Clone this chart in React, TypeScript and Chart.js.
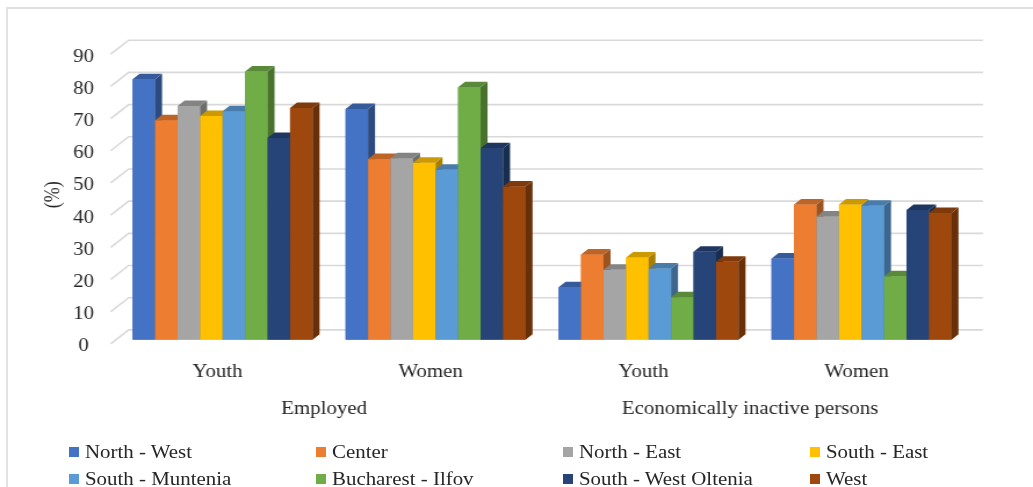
import React, { useEffect, useRef } from 'react';
import { Chart, registerables } from 'chart.js';

Chart.register(...registerables);

const categories = ['Youth', 'Women', 'Youth', 'Women'];
const groupLabels = ['Employed', 'Economically inactive persons'];
const regions = [
  'North - West',
  'Center',
  'North - East',
  'South - East',
  'South - Muntenia',
  'Bucharest - Ilfov',
  'South - West Oltenia',
  'West',
];

const northWest = [80.9, 71.7, 16.3, 25.2];
const center = [68.2, 56.1, 26.5, 42.0];
const northEast = [72.6, 56.4, 21.7, 38.3];
const southEast = [69.5, 55.0, 25.5, 42.0];
const southMuntenia = [71.0, 52.8, 22.1, 41.6];
const bucharestIlfov = [83.3, 78.4, 13.2, 19.7];
const southWestOltenia = [62.7, 59.5, 27.3, 40.3];
const west = [72.0, 47.6, 24.2, 39.4];

const seriesValues = [
  northWest,
  center,
  northEast,
  southEast,
  southMuntenia,
  bucharestIlfov,
  southWestOltenia,
  west,
];

const colors = ['#4472C4', '#ED7D31', '#A5A5A5', '#FFC000', '#5B9BD5', '#70AD47', '#264478', '#9E480E'];

const yMin = 0;
const yMax = 90;
const yStep = 10;

const FONT = '"Liberation Serif", "Times New Roman", serif';
const TEXT = '#262626';

// the reference is horizontally stretched: draw narrower, display wider
const PAGE_W = 1033;
const PAGE_H = 487;
const BUF_W = 890;
const S = PAGE_W / BUF_W;

function shade(hex: string, f: number) {
  const n = parseInt(hex.slice(1), 16);
  const r = Math.round(((n >> 16) & 255) * f);
  const g = Math.round(((n >> 8) & 255) * f);
  const b = Math.round((n & 255) * f);
  return `rgb(${r},${g},${b})`;
}

// depth offsets (buffer pixels) relative to bar plane
const FRONT = { dx: -5.4 / S, dy: 4.2 };
const BACK = { dx: 12.6 / S, dy: -9.8 };
const BAR = { dx: 7 / S, dy: -5.5 };

const wallPlugin = {
  id: 'wall3d',
  beforeDatasetsDraw(chart: any) {
    const { ctx, chartArea: ca } = chart;
    const y = chart.scales.y;
    ctx.save();
    ctx.strokeStyle = '#d9d9d9';
    ctx.lineWidth = 1.6;
    y.ticks.forEach((t: any) => {
      const py = y.getPixelForValue(t.value);
      ctx.beginPath();
      ctx.moveTo(ca.left + FRONT.dx, py + FRONT.dy);
      ctx.lineTo(ca.left + BACK.dx, py + BACK.dy);
      ctx.lineTo(ca.right + BACK.dx + 2, py + BACK.dy);
      ctx.stroke();
    });
    ctx.restore();
  },
};

const barsPlugin = {
  id: 'bars3d',
  afterDatasetsDraw(chart: any) {
    const { ctx } = chart;
    ctx.save();
    chart.data.datasets.forEach((ds: any, i: number) => {
      const meta = chart.getDatasetMeta(i);
      const base = colors[i];
      meta.data.forEach((el: any) => {
        const { x, y, base: b, width } = el.getProps(['x', 'y', 'base', 'width'], true);
        const l = x - width / 2;
        const r = x + width / 2;
        ctx.fillStyle = base;
        ctx.fillRect(l, y, width, b - y);
        ctx.fillStyle = shade(base, 0.66);
        ctx.beginPath();
        ctx.moveTo(r, y);
        ctx.lineTo(r + BAR.dx, y + BAR.dy);
        ctx.lineTo(r + BAR.dx, b + BAR.dy);
        ctx.lineTo(r, b);
        ctx.closePath();
        ctx.fill();
        ctx.fillStyle = shade(base, 0.8);
        ctx.beginPath();
        ctx.moveTo(l, y);
        ctx.lineTo(l + BAR.dx, y + BAR.dy);
        ctx.lineTo(r + BAR.dx, y + BAR.dy);
        ctx.lineTo(r, y);
        ctx.closePath();
        ctx.fill();
      });
    });
    ctx.restore();
  },
};

const legendCols = [69, 316, 563, 810];
const legendRows = [452, 479];

export default function App() {
  const ref = useRef<HTMLCanvasElement | null>(null);

  useEffect(() => {
    if (!ref.current) return;
    const tickFont = { family: FONT, size: 18 };
    const chart = new Chart(ref.current, {
      type: 'bar',
      data: {
        labels: categories,
        datasets: regions.map((name, i) => ({
          label: name,
          data: seriesValues[i],
          backgroundColor: colors[i],
          borderWidth: 0,
          barPercentage: 1,
          categoryPercentage: 0.845,
        })),
      },
      options: {
        animation: false,
        responsive: false,
        devicePixelRatio: 1,
        layout: { padding: { left: 20, right: 56, top: 50, bottom: 67 } },
        plugins: { legend: { display: false }, tooltip: { enabled: false } },
        scales: {
          x: {
            type: 'category',
            position: 'bottom',
            weight: 0,
            grid: { display: false, drawTicks: false, tickLength: 0 },
            border: { display: false },
            ticks: {
              color: TEXT,
              font: tickFont,
              padding: 21.7,
              labelOffset: -5 / S,
              maxRotation: 0,
              autoSkip: false,
            },
            afterFit: (s: any) => {
              s.height = 41.3;
            },
          },
          x2: {
            type: 'category',
            position: 'bottom',
            weight: 1,
            labels: groupLabels,
            offset: true,
            grid: { display: false, drawTicks: false, tickLength: 0 },
            border: { display: false },
            ticks: {
              color: TEXT,
              font: tickFont,
              padding: 17.4,
              labelOffset: -5 / S,
              maxRotation: 0,
              autoSkip: false,
            },
            afterFit: (s: any) => {
              s.height = 39;
            },
          },
          y: {
            min: yMin,
            max: yMax,
            grid: { display: false, drawTicks: false, tickLength: 0 },
            border: { display: false },
            ticks: {
              stepSize: yStep,
              color: TEXT,
              font: tickFont,
              padding: 19,
              labelOffset: 7,
              crossAlign: 'center',
            },
            title: {
              display: true,
              text: '(%)',
              color: TEXT,
              font: tickFont,
              padding: { top: 15.7, bottom: 4 },
            },
            afterFit: (s: any) => {
              s.width = 80;
            },
          },
        },
      },
      plugins: [wallPlugin, barsPlugin],
    } as any);
    return () => chart.destroy();
  }, []);

  return (
    <div
      style={{
        position: 'fixed',
        left: 0,
        top: 0,
        width: PAGE_W,
        height: PAGE_H,
        background: '#fff',
        overflow: 'hidden',
      }}
    >
      <div
        style={{
          position: 'absolute',
          left: 6,
          top: 7,
          right: -4,
          bottom: -4,
          borderTop: '2px solid #e2e2e2',
          borderLeft: '2px solid #e2e2e2',
        }}
      />
      <canvas
        ref={ref}
        width={BUF_W}
        height={PAGE_H}
        style={{ position: 'absolute', left: 0, top: 0, width: PAGE_W, height: PAGE_H }}
      />
      {regions.map((name, i) => {
        const col = i % 4;
        const row = Math.floor(i / 4);
        return (
          <div
            key={name}
            style={{
              position: 'absolute',
              left: legendCols[col],
              top: legendRows[row] - 11,
              height: 22,
              display: 'flex',
              alignItems: 'center',
              fontFamily: FONT,
              fontSize: 18,
              color: TEXT,
              whiteSpace: 'nowrap',
            }}
          >
            <span
              style={{
                display: 'inline-block',
                width: 10,
                height: 10,
                background: colors[i],
                marginRight: 6,
              }}
            />
            <span style={{ display: 'inline-block', transform: `scaleX(${S})`, transformOrigin: 'left center' }}>
              {name}
            </span>
          </div>
        );
      })}
    </div>
  );
}
